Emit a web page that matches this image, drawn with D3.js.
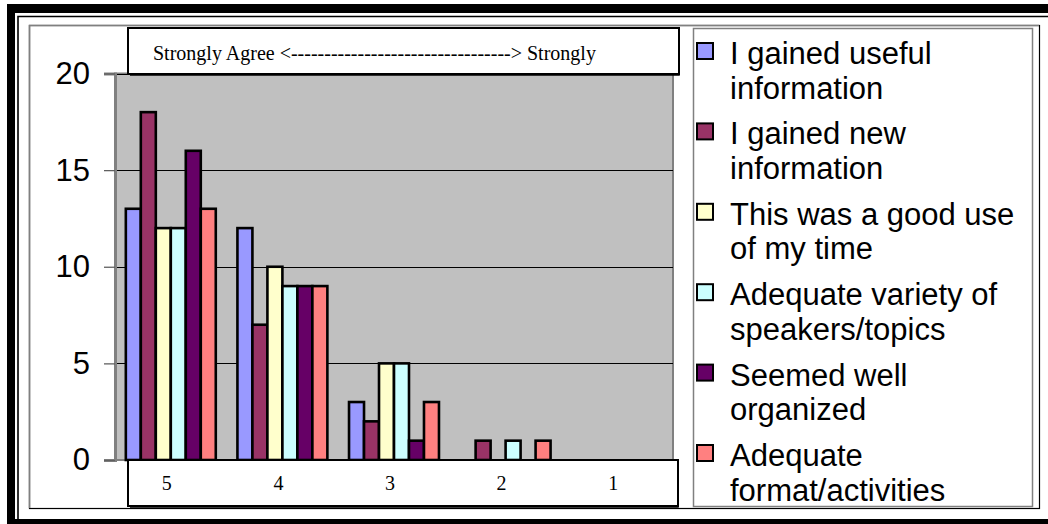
<!DOCTYPE html>
<html>
<head>
<meta charset="utf-8">
<style>
  body{
    margin: 0;
    background-color: #ffffff;
  }
  #vis{
    display: block;
  }
</style>
</head>
<body>
<script src="https://d3js.org/d3.v7.min.js"></script>
<svg id="vis"></svg>
<script>
  var width = 1048,
    height = 524;

  // data -------------------------------------------------
  var categories = ["5", "4", "3", "2", "1"];
  var seriesNames = [
    "I gained useful information",
    "I gained new information",
    "This was a good use of my time",
    "Adequate variety of speakers/topics",
    "Seemed well organized",
    "Adequate format/activities"
  ];
  var seriesColors = ["#9999ff", "#993366", "#ffffcc", "#ccffff", "#660066", "#ff8080"];
  // one row per category, one value per series
  var values = [
    [13, 18, 12, 12, 16, 13],
    [12, 7, 10, 9, 9, 9],
    [3, 2, 5, 5, 1, 3],
    [0, 1, 0, 1, 0, 1],
    [0, 0, 0, 0, 0, 0]
  ];
  var yTicks = [0, 5, 10, 15, 20];
  var titleText = "Strongly Agree <---------------------------------> Strongly";

  var sans = "'Liberation Sans', Arial, sans-serif",
    serif = "'Liberation Serif', 'Times New Roman', serif";

  var svg = d3.select("#vis")
    .attr("width", width)
    .attr("height", height);

  // page frame -------------------------------------------------
  svg.append("rect").attr("x", 7).attr("y", 4).attr("width", 8).attr("height", 520).style("fill", "#000");
  svg.append("rect").attr("x", 7).attr("y", 4).attr("width", 1041).attr("height", 9).style("fill", "#000");
  svg.append("rect").attr("x", 7).attr("y", 519).attr("width", 1041).attr("height", 5).style("fill", "#000");
  svg.append("path")
    .attr("d", "M18,520 V16.5 H1048")
    .style("fill", "none")
    .style("stroke", "#000")
    .style("stroke-width", 1.6);

  // chart area
  svg.append("rect")
    .attr("x", 29.5).attr("y", 25.5)
    .attr("width", 1010).attr("height", 483)
    .style("fill", "#fff")
    .style("stroke", "#000")
    .style("stroke-width", 1.2);
  svg.append("path")
    .attr("d", "M29.5,508 V25.5 H1039")
    .style("fill", "none")
    .style("stroke", "#808080")
    .style("stroke-width", 1.6);

  // scales -------------------------------------------------
  var plot = {left: 115, right: 673, top: 73.5, bottom: 460};

  var x0 = d3.scaleBand()
    .domain(categories)
    .range([plot.left, plot.right])
    .paddingInner(0.194)
    .paddingOuter(0.097);

  var x1 = d3.scaleBand()
    .domain(d3.range(seriesNames.length))
    .range([0, x0.bandwidth()]);

  var y = d3.scaleLinear()
    .domain([0, 20])
    .range([plot.bottom, plot.top]);

  // plot area -------------------------------------------------
  svg.append("rect")
    .attr("x", plot.left).attr("y", plot.top)
    .attr("width", plot.right - plot.left)
    .attr("height", plot.bottom - plot.top)
    .style("fill", "#c0c0c0")
    .style("stroke", "#808080")
    .style("stroke-width", 2);

  svg.selectAll(".grid")
    .data(yTicks.filter(function(d){ return d > 0; }))
    .enter().append("line")
    .attr("class", "grid")
    .attr("x1", plot.left)
    .attr("x2", plot.right)
    .attr("y1", function(d){ return Math.round(y(d)) + 0.5; })
    .attr("y2", function(d){ return Math.round(y(d)) + 0.5; })
    .style("stroke", "#000")
    .style("stroke-width", 1);

  // y axis
  var yAxis = svg.append("g")
    .attr("transform", "translate(" + plot.left + ",0)")
    .call(d3.axisLeft(y).tickValues(yTicks).tickSize(11).tickPadding(14));
  yAxis.select(".domain")
    .style("stroke", "#808080")
    .style("stroke-width", 3);
  yAxis.selectAll(".tick line").style("stroke", "#606060").style("stroke-width", 1.3);
  yAxis.selectAll("text")
    .style("font-family", sans)
    .style("font-size", "31px")
    .style("fill", "#000");

  // bars -------------------------------------------------
  var groups = svg.selectAll(".group")
    .data(categories)
    .enter().append("g")
    .attr("class", "group")
    .attr("transform", function(d){ return "translate(" + x0(d) + ",0)"; });

  groups.selectAll("rect")
    .data(function(d, i){
      return values[i].map(function(v, j){ return {s: j, v: v}; })
        .filter(function(d){ return d.v > 0; });
    })
    .enter().append("rect")
    .attr("x", function(d){ return x1(d.s); })
    .attr("y", function(d){ return y(d.v); })
    .attr("width", x1.bandwidth())
    .attr("height", function(d){ return y(0) - y(d.v); })
    .style("fill", function(d){ return seriesColors[d.s]; })
    .style("stroke", "#000")
    .style("stroke-width", 2.6);

  // title box -------------------------------------------------
  svg.append("rect")
    .attr("x", 128).attr("y", 28)
    .attr("width", 551).attr("height", 46)
    .style("fill", "#fff")
    .style("stroke", "#000")
    .style("stroke-width", 2);
  svg.append("path")
    .attr("d", "M679,30 V75 H130")
    .style("fill", "none")
    .style("stroke", "#000")
    .style("stroke-width", 1.5);
  svg.append("text")
    .attr("x", 153)
    .attr("y", 60)
    .style("font-family", serif)
    .style("font-size", "20px")
    .text(titleText);

  // category label box -------------------------------------------------
  svg.append("rect")
    .attr("x", 128).attr("y", 460)
    .attr("width", 550).attr("height", 46)
    .style("fill", "#fff")
    .style("stroke", "#000")
    .style("stroke-width", 2);
  svg.append("path")
    .attr("d", "M678,462 V507 H130")
    .style("fill", "none")
    .style("stroke", "#000")
    .style("stroke-width", 1.5);
  svg.selectAll(".catLabel")
    .data(categories)
    .enter().append("text")
    .attr("class", "catLabel")
    .attr("x", function(d){ return x0(d) + x0.bandwidth() / 2 - 4; })
    .attr("y", 490)
    .attr("text-anchor", "middle")
    .style("font-family", serif)
    .style("font-size", "20px")
    .text(function(d){ return d; });

  // legend -------------------------------------------------
  var legend = {x: 693, y: 28, w: 339, h: 478};
  svg.append("rect")
    .attr("x", legend.x + 0.5).attr("y", legend.y + 0.5)
    .attr("width", legend.w).attr("height", legend.h)
    .style("fill", "#fff")
    .style("stroke", "#808080")
    .style("stroke-width", 1.5);

  var step = 80.4,
    lineH = 34.5,
    maxText = 298;

  var items = svg.selectAll(".legendItem")
    .data(seriesNames)
    .enter().append("g")
    .attr("class", "legendItem")
    .attr("transform", function(d, i){ return "translate(" + legend.x + "," + (64 + i * step) + ")"; });

  items.append("rect")
    .attr("x", 4).attr("y", -21)
    .attr("width", 16).attr("height", 16)
    .style("fill", function(d, i){ return seriesColors[i]; })
    .style("stroke", "#000")
    .style("stroke-width", 2);

  items.append("text")
    .attr("x", 37)
    .style("font-family", sans)
    .style("font-size", "31px")
    .each(function(d){ wrap(d3.select(this), d); });

  function wrap(text, str){
    var words = str.split(" "),
      line = [],
      n = 0,
      tspan = text.append("tspan").attr("x", 37).attr("y", 0);
    words.forEach(function(w){
      line.push(w);
      tspan.text(line.join(" "));
      if (tspan.node().getComputedTextLength() > maxText && line.length > 1) {
        line.pop();
        tspan.text(line.join(" "));
        line = [w];
        n++;
        tspan = text.append("tspan").attr("x", 37).attr("y", n * lineH).text(w);
      }
    });
  }
</script>
</body>
</html>
